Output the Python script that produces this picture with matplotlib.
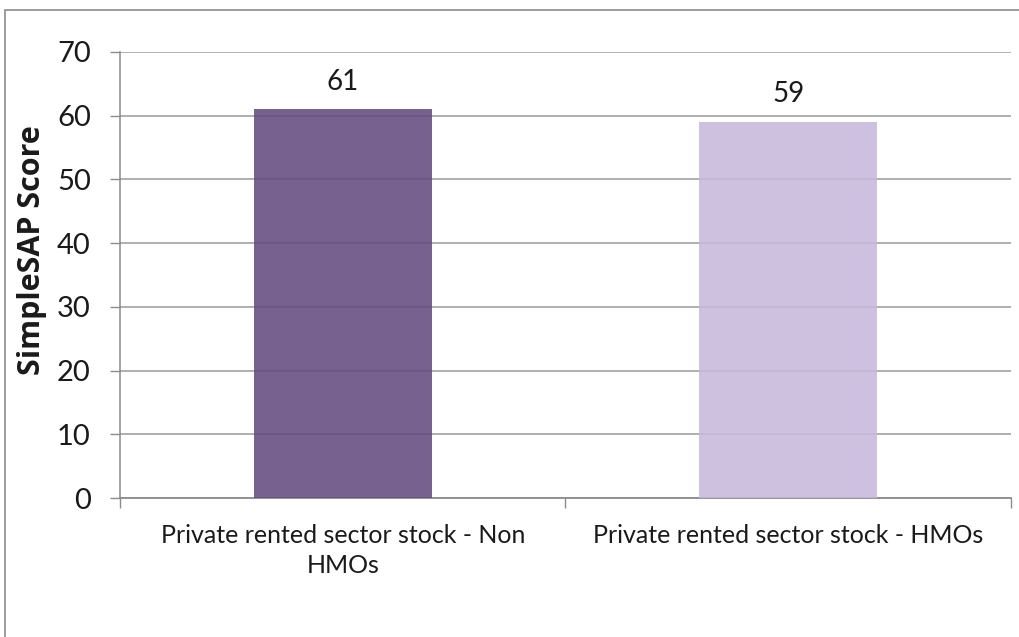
import matplotlib
matplotlib.use("Agg")
import matplotlib.pyplot as plt
from matplotlib.patches import Rectangle

categories = ["Private rented sector stock - Non\nHMOs", "Private rented sector stock - HMOs"]
scores = [61, 59]
bar_colors = ["#644B80", "#C8B9DB"]
y_ticks = [0, 10, 20, 30, 40, 50, 60, 70]

plt.rcParams['font.family'] = ['Lato', 'DejaVu Sans']

fig = plt.figure(figsize=(10.19, 6.37), dpi=100)
ax = fig.add_axes([0.1178, 0.2182, 0.992 - 0.1178, 0.9184 - 0.2182])

# chart-area frame, runs off the right and bottom edges
fig.patches.append(Rectangle((5 / 1019, -0.05), 1.1, 0.9843 + 0.05,
                             transform=fig.transFigure, fill=False,
                             edgecolor="#8c8c8c", linewidth=1.2, zorder=0))

xs = list(range(len(categories)))
bars = ax.bar(xs, scores, width=0.4, color=bar_colors, alpha=0.88, zorder=3)

for b, v in zip(bars, scores):
    ax.text(b.get_x() + b.get_width() / 2, v + 2.3, str(v), ha="center", va="bottom",
            fontsize=20, color="#1a1a1a")

ax.set_xlim(-0.5, 1.5)
ax.set_ylim(0, 70)
ax.set_yticks(y_ticks)
ax.tick_params(axis="y", labelsize=21, length=7, width=1, color="#8c8c8c", pad=14,
               labelcolor="#1a1a1a")
ax.yaxis.grid(True, color="#9a9a9a", linewidth=1.1, zorder=1)
ax.set_axisbelow(True)

# category ticks sit on the boundaries, labels in the middle
ax.set_xticks([-0.5, 0.5, 1.5])
ax.set_xticklabels([])
ax.set_xticks(xs, minor=True)
ax.set_xticklabels(categories, minor=True, fontsize=18, color="#1a1a1a", linespacing=1.35)
ax.tick_params(axis="x", which="major", length=7, width=1, color="#8c8c8c")
ax.tick_params(axis="x", which="minor", length=0, pad=19)

for side in ["top", "right"]:
    ax.spines[side].set_visible(False)
ax.spines["left"].set_color("#8c8c8c")
ax.spines["bottom"].set_color("#8c8c8c")
ax.spines["left"].set_linewidth(1.1)
ax.spines["bottom"].set_linewidth(1.3)

ax.set_ylabel("SimpleSAP Score", fontsize=22, fontweight="bold", color="#1a1a1a",
              family=["Open Sans", "DejaVu Sans"])
ax.yaxis.set_label_coords(-0.082, 0.556)

fig.savefig("out.png", dpi=100)
